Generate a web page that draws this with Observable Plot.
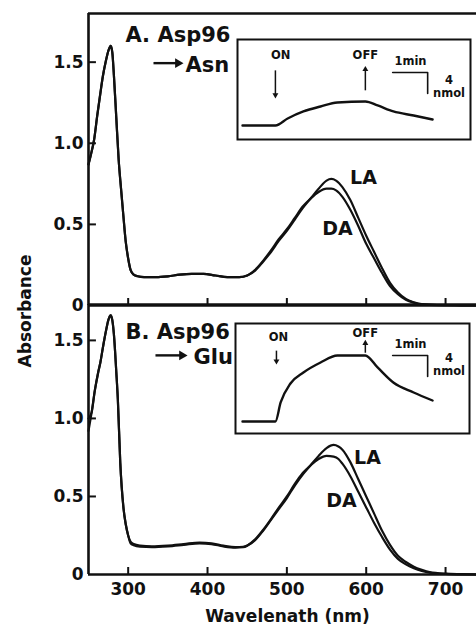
<!DOCTYPE html>
<html>
<head>
<meta charset="utf-8">
<script src="https://cdn.jsdelivr.net/npm/d3@7"></script>
<script src="https://cdn.jsdelivr.net/npm/@observablehq/plot@0.6"></script>
<style>
  body { margin: 0; background: #fff; }
  #wrap { position: relative; width: 476px; height: 627px; overflow: hidden; background: #fff; font-family: "DejaVu Sans", sans-serif; }
  #wrap > div.slot { position: absolute; }
  #ylab { position: absolute; left: 25px; top: 311px; transform: translate(-50%, -50%) rotate(-90deg);
          font-weight: bold; font-size: 17px; white-space: nowrap; color: #111; }
</style>
</head>
<body>
<div id="wrap">
  <div class="slot" id="panelA" style="left:0;top:0"></div>
  <div class="slot" id="panelB" style="left:0;top:300px"></div>
  <div class="slot" id="insetA" style="left:236px;top:38px"></div>
  <div class="slot" id="insetB" style="left:234px;top:322px"></div>
  <div id="ylab">Absorbance</div>
</div>
<script>
// ---------------- data ----------------
const xTickValues = [300, 400, 500, 600, 700];
const yTickValues = [0, 0.5, 1.0, 1.5];
const yTickText = ["0", "0.5", "1.0", "1.5"];

// Panel A (Asp96 -> Asn): UV part (LA and DA coincide)
const uvNmA  = [250, 253, 257, 261, 265, 268, 272, 275, 278, 280, 282, 285, 288, 291, 294, 297, 300, 303, 307, 312, 320, 335, 350, 365, 380, 395, 410, 425];
const uvAbsA = [0.87, 0.93, 1.02, 1.17, 1.31, 1.41, 1.51, 1.57, 1.60, 1.56, 1.42, 1.16, 0.90, 0.72, 0.55, 0.39, 0.29, 0.22, 0.19, 0.18, 0.175, 0.175, 0.18, 0.19, 0.195, 0.195, 0.185, 0.175];
// Panel A visible band
const visNmA = [440, 450, 460, 470, 480, 490, 500, 510, 520, 530, 540, 550, 556, 562, 570, 580, 590, 600, 610, 620, 630, 640, 650, 660, 670, 690, 720, 739];
const laVisA = [0.175, 0.185, 0.215, 0.27, 0.33, 0.40, 0.46, 0.53, 0.60, 0.66, 0.72, 0.77, 0.78, 0.77, 0.73, 0.65, 0.54, 0.43, 0.33, 0.23, 0.14, 0.08, 0.04, 0.02, 0.008, 0.003, 0.001, 0];
const daVisA = [0.175, 0.185, 0.22, 0.275, 0.34, 0.41, 0.47, 0.54, 0.61, 0.66, 0.70, 0.72, 0.72, 0.71, 0.67, 0.59, 0.49, 0.38, 0.29, 0.20, 0.12, 0.07, 0.035, 0.017, 0.007, 0.002, 0.001, 0];

// Panel B (Asp96 -> Glu): UV part
const uvNmB  = [250, 254, 258, 262, 265, 268, 272, 275, 278, 280, 282, 285, 287, 290, 294, 297, 300, 303, 307, 315, 330, 350, 370, 390, 405, 420, 435];
const uvLaB  = [0.92, 1.04, 1.18, 1.29, 1.36, 1.45, 1.56, 1.63, 1.66, 1.63, 1.54, 1.30, 1.12, 0.72, 0.43, 0.32, 0.25, 0.21, 0.195, 0.185, 0.18, 0.185, 0.195, 0.205, 0.20, 0.185, 0.175];
const uvDaB  = [1.00, 1.04, 1.18, 1.29, 1.36, 1.45, 1.56, 1.63, 1.66, 1.63, 1.54, 1.30, 1.12, 0.72, 0.43, 0.32, 0.25, 0.20, 0.187, 0.178, 0.175, 0.18, 0.19, 0.2, 0.195, 0.18, 0.172];
// Panel B visible band
const visNmB = [445, 450, 460, 470, 480, 490, 500, 510, 520, 530, 540, 550, 559, 565, 570, 580, 590, 600, 610, 620, 630, 640, 650, 660, 670, 680, 700, 720, 739];
const laVisB = [0.178, 0.185, 0.22, 0.28, 0.35, 0.42, 0.49, 0.57, 0.64, 0.70, 0.76, 0.81, 0.83, 0.82, 0.80, 0.72, 0.61, 0.50, 0.39, 0.28, 0.19, 0.12, 0.08, 0.05, 0.03, 0.015, 0.005, 0.002, 0];
const daVisB = [0.175, 0.185, 0.225, 0.285, 0.355, 0.43, 0.50, 0.58, 0.65, 0.70, 0.74, 0.76, 0.755, 0.74, 0.71, 0.63, 0.53, 0.43, 0.33, 0.24, 0.16, 0.10, 0.065, 0.04, 0.022, 0.011, 0.004, 0.001, 0];

// Insets: proton uptake trace (time in min, nmol)
const insetTimeA = [0, 0.94, 1.29, 1.74, 2.23, 2.71, 3.51, 3.86, 4.31, 4.89, 5.43];
const insetNmolA = [0, 0, 1.33, 2.67, 3.62, 4.38, 4.57, 3.81, 2.67, 1.90, 1.14];
const insetTimeB = [0, 0.94, 1.09, 1.37, 1.74, 2.23, 2.71, 3.51, 3.86, 4.31, 4.89, 5.43];
const insetNmolB = [0, 0, 3.62, 7.24, 9.33, 11.24, 12.57, 12.57, 10.29, 7.43, 5.52, 4.0];

// ---------------- helpers ----------------
const XDOM = [250, 739];
const INK = "#111";
const FONT = "DejaVu Sans, sans-serif";

function series(nm1, a1, nm2, a2, name) {
  return nm1.map((x, i) => ({nm: x, abs: a1[i], s: name}))
    .concat(nm2.map((x, i) => ({nm: x, abs: a2[i], s: name})));
}

function spectrumPanel(o) {
  const plotH = o.height - o.mt - o.mb;
  const pxPerUnit = plotH / o.yMax;
  const marks = [
    Plot.line(o.data, {x: "nm", y: "abs", z: "s", curve: "monotone-x", stroke: INK, strokeWidth: 2.2}),
    Plot.ruleX([XDOM[0]], {stroke: INK, strokeWidth: 2.6}),
    Plot.ruleY([0], {stroke: INK, strokeWidth: 2.6}),
    Plot.ruleY([o.yMax], {stroke: INK, strokeWidth: 2.6}),
    Plot.ruleY(yTickValues.slice(1), {x1: XDOM[0], x2: XDOM[0] + 10, stroke: INK, strokeWidth: 2}),
    Plot.ruleX(xTickValues, {y1: 0, y2: 7 / pxPerUnit, stroke: INK, strokeWidth: 2}),
    Plot.axisY(yTickValues, {tickSize: 0, tickPadding: 5, label: null,
      tickFormat: d => yTickText[yTickValues.indexOf(d)], fontSize: 17, fontWeight: "bold"}),
    // panel title
    Plot.text([o.title], {x: 296.6, y: o.titleY, textAnchor: "start", lineAnchor: "middle", fontSize: 21, fontWeight: "bold", fill: INK}),
    Plot.link([0], {x1: o.arrow[0], x2: o.arrow[1] - 6, y1: o.arrowY, y2: o.arrowY, stroke: INK, strokeWidth: 2.4}),
    Plot.dot([0], {x: o.arrow[1] - 7, y: o.arrowY, symbol: "triangle", r: 3.6, rotate: 90, fill: INK, stroke: null}),
    Plot.text([o.sub], {x: o.subX, y: o.subY, textAnchor: "start", lineAnchor: "middle", fontSize: 21, fontWeight: "bold", fill: INK}),
    Plot.text(["LA"], {x: o.la[0], y: o.la[1], lineAnchor: "middle", fontSize: 19, fontWeight: "bold", fill: INK}),
    Plot.text(["DA"], {x: o.da[0], y: o.da[1], lineAnchor: "middle", fontSize: 19, fontWeight: "bold", fill: INK})
  ];
  if (o.showX) {
    marks.push(Plot.axisX(xTickValues, {tickSize: 0, tickPadding: 8, label: null, fontSize: 17, fontWeight: "bold"}));
    marks.push(Plot.text(["Wavelenath (nm)"], {frameAnchor: "bottom", dx: 5, dy: 42, lineAnchor: "middle", fontSize: 17, fontWeight: "bold", fill: INK}));
  }
  return Plot.plot({
    width: 476, height: o.height,
    marginLeft: 88, marginRight: 0, marginTop: o.mt, marginBottom: o.mb,
    x: o.showX ? {domain: XDOM} : {domain: XDOM, axis: null},
    y: {domain: [0, o.yMax]},
    style: {fontFamily: FONT, color: INK, background: "transparent", overflow: "visible"},
    marks
  });
}

function insetPlot(o) {
  const data = o.t.map((t, i) => ({t, n: o.n[i]}));
  const ann = o.ann;
  return Plot.plot({
    width: o.w, height: o.h, margin: 1,
    x: {domain: o.xd, axis: null},
    y: {domain: o.yd, axis: null},
    style: {fontFamily: FONT, color: INK, background: "#fff", overflow: "visible"},
    marks: [
      Plot.frame({stroke: INK, strokeWidth: 2}),
      Plot.line(data, {x: "t", y: "n", curve: "monotone-x", stroke: INK, strokeWidth: 2.4}),
      // scale bar: 1 min horizontally, 4 nmol vertically
      Plot.line([{t: 4.29, n: ann.bar}, {t: 5.29, n: ann.bar}, {t: 5.29, n: ann.bar - 4}], {x: "t", y: "n", stroke: INK, strokeWidth: 1.6}),
      Plot.text(["1min"], {x: 4.8, y: ann.bar + 1.4, lineAnchor: "bottom", fontSize: 11.5, fontWeight: "bold", fill: INK}),
      Plot.text(["4"], {x: 5.9, y: ann.four, lineAnchor: "middle", fontSize: 11.5, fontWeight: "bold", fill: INK}),
      Plot.text(["nmol"], {x: 5.9, y: ann.nmol, lineAnchor: "middle", fontSize: 11.5, fontWeight: "bold", fill: INK}),
      // ON arrow (down)
      Plot.text(["ON"], {x: ann.onX, y: ann.onY, lineAnchor: "middle", fontSize: 11.5, fontWeight: "bold", fill: INK}),
      Plot.link([0], {x1: ann.onArrowX, x2: ann.onArrowX, y1: ann.onA[0], y2: ann.onA[1] + 0.6, stroke: INK, strokeWidth: 1.5}),
      Plot.dot([0], {x: ann.onArrowX, y: ann.onA[1] + 0.5, symbol: "triangle", r: 2.2, rotate: 180, fill: INK, stroke: null}),
      // OFF arrow (up)
      Plot.text(["OFF"], {x: ann.offX, y: ann.offY, lineAnchor: "middle", fontSize: 11.5, fontWeight: "bold", fill: INK}),
      Plot.link([0], {x1: ann.offX, x2: ann.offX, y1: ann.offA[0], y2: ann.offA[1] - 0.6, stroke: INK, strokeWidth: 1.5}),
      Plot.dot([0], {x: ann.offX, y: ann.offA[1] - 0.5, symbol: "triangle", r: 2.2, rotate: 0, fill: INK, stroke: null})
    ]
  });
}

// ---------------- panels ----------------
const dataA = series(uvNmA, uvAbsA, visNmA, laVisA, "LA").concat(series(uvNmA, uvAbsA, visNmA, daVisA, "DA"));
const dataB = series(uvNmB, uvLaB, visNmB, laVisB, "LA").concat(series(uvNmB, uvDaB, visNmB, daVisB, "DA"));

document.getElementById("panelA").append(spectrumPanel({
  data: dataA, height: 308, mt: 13, mb: 3, yMax: 1.80, showX: false,
  title: "A. Asp96", titleY: 1.667, arrow: [331.9, 369.7], arrowY: 1.494,
  sub: "Asn", subX: 372.2, subY: 1.481,
  la: [596.6, 0.784], da: [563.8, 0.475]
}));

document.getElementById("panelB").append(spectrumPanel({
  data: dataB, height: 327, mt: 4, mb: 53, yMax: 1.73, showX: true,
  title: "B. Asp96", titleY: 1.551, arrow: [334.4, 374.8], arrowY: 1.404,
  sub: "Glu", subX: 382.3, subY: 1.39,
  la: [601.6, 0.744], da: [568.9, 0.474]
}));

document.getElementById("insetA").append(insetPlot({
  t: insetTimeA, n: insetNmolA, w: 235, h: 102,
  xd: [-0.143, 6.514], yd: [-2.67, 16.38],
  ann: {bar: 10.1, four: 8.7, nmol: 6.1, onX: 1.09, onY: 13.3, onArrowX: 0.94, onA: [10.5, 5.3],
        offX: 3.51, offY: 13.3, offA: [6.7, 11.2]}
}));

document.getElementById("insetB").append(insetPlot({
  t: insetTimeB, n: insetNmolB, w: 236, h: 112,
  xd: [-0.2, 6.486], yd: [-2.286, 18.67],
  ann: {bar: 12.57, four: 12.0, nmol: 9.5, onX: 1.03, onY: 16.0, onArrowX: 0.97, onA: [13.5, 11.0],
        offX: 3.51, offY: 16.8, offA: [13.1, 15.4]}
}));
</script>
</body>
</html>
